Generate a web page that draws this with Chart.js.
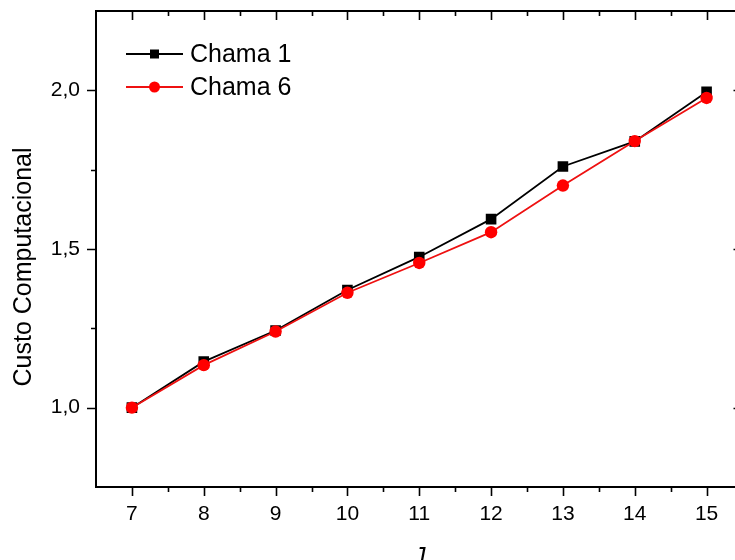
<!DOCTYPE html>
<html>
<head>
<meta charset="utf-8">
<script src="https://cdn.jsdelivr.net/npm/chart.js@4/dist/chart.umd.min.js"></script>
<style>
html,body{margin:0;padding:0;background:#fff;overflow:hidden;width:735px;height:560px;}
#wrap{position:absolute;left:0;top:0;width:750px;height:560px;}
</style>
</head>
<body>
<div id="wrap"><canvas id="c" width="750" height="560"></canvas></div>
<script>
// Data
const xValues = [7, 8, 9, 10, 11, 12, 13, 14, 15];
const chama1 = [1.000, 1.145, 1.243, 1.371, 1.475, 1.594, 1.760, 1.839, 1.995];
const chama6 = [1.000, 1.134, 1.240, 1.362, 1.456, 1.553, 1.700, 1.840, 1.976];
const seriesNames = ['Chama 1', 'Chama 6'];
const xTickValues = [7, 8, 9, 10, 11, 12, 13, 14, 15];
const yTickValues = [1.0, 1.5, 2.0];
const yTickLabels = ['1,0', '1,5', '2,0'];
const yAxisTitle = 'Custo Computacional';
const xAxisTitle = 'J';

const FONT = '"Liberation Sans", Arial, sans-serif';

const toPts = (ys) => xValues.map((x, i) => ({x: x, y: ys[i]}));

const framePlugin = {
  id: 'frame',
  afterDatasetsDraw(chart) {
    const ctx = chart.ctx;
    const ca = chart.chartArea;
    const xs = chart.scales.x, ys = chart.scales.y;
    ctx.save();
    ctx.strokeStyle = '#000';
    ctx.lineWidth = 2;
    ctx.strokeRect(ca.left, ca.top, ca.right - ca.left, ca.bottom - ca.top);
    ctx.lineWidth = 1.6;
    const MAJ = 9, MIN = 5;
    ctx.beginPath();
    xTickValues.forEach(v => {
      const p = Math.round(xs.getPixelForValue(v)) + 0.5;
      ctx.moveTo(p, ca.bottom); ctx.lineTo(p, ca.bottom + MAJ);
      ctx.moveTo(p, ca.top); ctx.lineTo(p, ca.top + MAJ);
    });
    for (let i = 0; i < xTickValues.length - 1; i++) {
      const v = (xTickValues[i] + xTickValues[i + 1]) / 2;
      const p = Math.round(xs.getPixelForValue(v)) + 0.5;
      ctx.moveTo(p, ca.bottom); ctx.lineTo(p, ca.bottom + MIN);
      ctx.moveTo(p, ca.top); ctx.lineTo(p, ca.top + MIN);
    }
    yTickValues.forEach(v => {
      const p = Math.round(ys.getPixelForValue(v)) + 0.5;
      ctx.moveTo(ca.left, p); ctx.lineTo(ca.left - MAJ, p);
      ctx.moveTo(ca.right, p); ctx.lineTo(ca.right - MAJ, p);
    });
    for (let i = 0; i < yTickValues.length - 1; i++) {
      const v = (yTickValues[i] + yTickValues[i + 1]) / 2;
      const p = Math.round(ys.getPixelForValue(v)) + 0.5;
      ctx.moveTo(ca.left, p); ctx.lineTo(ca.left - MIN, p);
      ctx.moveTo(ca.right, p); ctx.lineTo(ca.right - MIN, p);
    }
    ctx.stroke();

    ctx.fillStyle = '#000';
    ctx.font = '25px ' + FONT;
    ctx.textAlign = 'center';
    ctx.textBaseline = 'middle';
    ctx.save();
    ctx.translate(24, 267);
    ctx.rotate(-Math.PI / 2);
    ctx.fillText(yAxisTitle, 0, 0);
    ctx.restore();
    ctx.font = 'italic 25px ' + FONT;
    ctx.textBaseline = 'alphabetic';
    ctx.fillText(xAxisTitle, (ca.left + ca.right) / 2, 565);

    const rows = [54, 87];
    chart.data.datasets.forEach((ds, i) => {
      const y = rows[i];
      ctx.strokeStyle = ds.borderColor;
      ctx.lineWidth = 1.8;
      ctx.beginPath();
      ctx.moveTo(126, y); ctx.lineTo(183, y);
      ctx.stroke();
      ctx.fillStyle = ds.backgroundColor;
      if (ds.pointStyle === 'rect') {
        ctx.fillRect(150, y - 4.5, 9, 9);
      } else {
        ctx.beginPath();
        ctx.arc(154.5, y, 5.5, 0, Math.PI * 2);
        ctx.fill();
      }
      ctx.fillStyle = '#000';
      ctx.font = '25px ' + FONT;
      ctx.textAlign = 'left';
      ctx.textBaseline = 'middle';
      ctx.fillText(ds.label, 190, y + 1);
    });
    ctx.restore();
  }
};

new Chart(document.getElementById('c'), {
  type: 'line',
  data: {
    datasets: [
      {
        label: seriesNames[0],
        data: toPts(chama1),
        borderColor: '#000000',
        backgroundColor: '#000000',
        borderWidth: 1.8,
        pointStyle: 'rect',
        pointRadius: 7.5,
        pointBorderWidth: 0,
        order: 2,
        tension: 0
      },
      {
        label: seriesNames[1],
        data: toPts(chama6),
        borderColor: '#ee1111',
        backgroundColor: '#ff0000',
        borderWidth: 1.8,
        pointStyle: 'circle',
        pointRadius: 6.2,
        pointBorderWidth: 0,
        order: 1,
        tension: 0
      }
    ]
  },
  options: {
    responsive: false,
    animation: false,
    devicePixelRatio: 1,
    layout: {padding: {top: 11, right: 7, left: 0, bottom: 0}},
    plugins: {legend: {display: false}, tooltip: {enabled: false}},
    scales: {
      x: {
        type: 'linear',
        min: 6.5,
        max: 15.5,
        grid: {display: false},
        border: {display: false},
        afterFit: (s) => { s.height = 73; s.paddingLeft = 0; s.paddingRight = 0; },
        afterBuildTicks: (s) => { s.ticks = xTickValues.map(v => ({value: v})); },
        ticks: {
          color: '#000',
          font: {family: FONT, size: 21},
          padding: 7,
          maxRotation: 0,
          autoSkip: false,
          callback: (v) => String(v)
        }
      },
      y: {
        type: 'linear',
        min: 0.75,
        max: 2.25,
        grid: {display: false},
        border: {display: false},
        afterFit: (s) => { s.width = 96; s.paddingTop = 0; s.paddingBottom = 0; },
        afterBuildTicks: (s) => { s.ticks = yTickValues.map(v => ({value: v})); },
        ticks: {
          color: '#000',
          font: {family: FONT, size: 21},
          padding: 8,
          autoSkip: false,
          callback: (v) => { const i = yTickValues.indexOf(v); return i >= 0 ? yTickLabels[i] : ''; }
        }
      }
    }
  },
  plugins: [framePlugin]
});
</script>
</body>
</html>
